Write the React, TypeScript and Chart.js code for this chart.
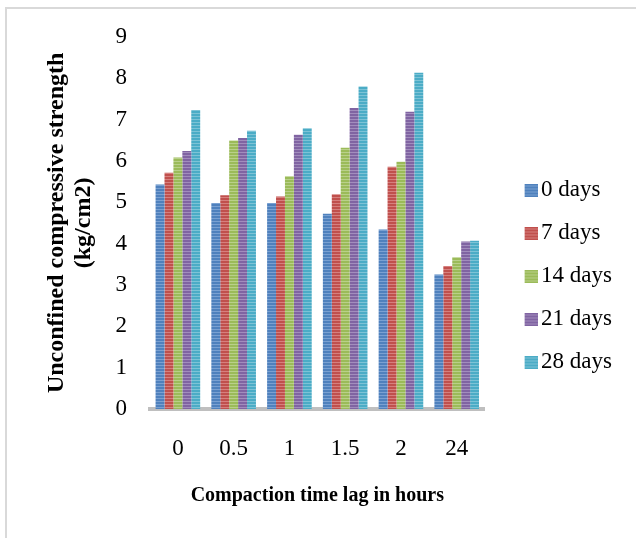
import React, { useEffect, useRef } from 'react';
import { Chart, registerables } from 'chart.js';

Chart.register(...registerables);

const categories = ['0', '0.5', '1', '1.5', '2', '24'];
const seriesNames = ['0 days', '7 days', '14 days', '21 days', '28 days'];
const days0 = [5.43, 4.98, 4.98, 4.72, 4.34, 3.25];
const days7 = [5.71, 5.17, 5.14, 5.19, 5.86, 3.46];
const days14 = [6.08, 6.49, 5.63, 6.32, 5.98, 3.67];
const days21 = [6.24, 6.55, 6.63, 7.28, 7.19, 4.05];
const days28 = [7.23, 6.73, 6.79, 7.8, 8.13, 4.07];
const seriesValues = [days0, days7, days14, days21, days28];
const yMin = 0;
const yMax = 9;
const yStep = 1;
const yTitle = ['Unconfined compressive strength', '(kg/cm2)'];
const xTitle = 'Compaction time lag in hours';

const baseColors = ['#4f81bd', '#c0504d', '#9bbb59', '#8064a2', '#4bacc6'];
const stripeColors = ['#7aa1d2', '#d6807e', '#b9d08a', '#a28dbd', '#7dc3d6'];

const FONT = "'Liberation Serif', 'Times New Roman', serif";

function stripeCanvas(w: number, h: number, base: string, stripe: string, offsetX = 0) {
  const c = document.createElement('canvas');
  c.width = w;
  c.height = h;
  const g = c.getContext('2d')!;
  g.fillStyle = base;
  g.fillRect(offsetX, 0, w - offsetX, h);
  g.fillStyle = stripe;
  for (let y = 2; y < h; y += 3) g.fillRect(offsetX, y, w - offsetX, 1);
  return c;
}

export default function App() {
  const ref = useRef<HTMLCanvasElement>(null);

  useEffect(() => {
    const canvas = ref.current!;
    const ctx = canvas.getContext('2d')!;
    const patterns = baseColors.map((b, i) =>
      ctx.createPattern(stripeCanvas(4, 3, b, stripeColors[i]), 'repeat')!
    );
    const boxes = baseColors.map((b, i) => stripeCanvas(17, 13, b, stripeColors[i], 4));

    const chart = new Chart(canvas, {
      type: 'bar',
      data: {
        labels: categories,
        datasets: seriesNames.map((name, i) => ({
          label: name,
          data: seriesValues[i],
          backgroundColor: patterns[i],
          borderWidth: 0,
          categoryPercentage: 0.8,
          barPercentage: 1.0,
        })),
      },
      options: {
        responsive: false,
        animation: false,
        devicePixelRatio: 1,
        layout: { padding: { left: 40, top: 22, right: 14, bottom: 28 } },
        scales: {
          x: {
            grid: { display: false, drawTicks: false },
            border: { display: true, color: '#bfbfbf', width: 4 },
            ticks: { font: { family: FONT, size: 23 }, color: '#000', padding: 26, maxRotation: 0 },
            title: {
              display: true,
              text: xTitle,
              font: { family: FONT, size: 20, weight: 'bold' },
              color: '#000',
              padding: { top: 20, bottom: 2 },
            },
            afterFit: (s: any) => {
              s.height = 101;
            },
          },
          y: {
            min: yMin,
            max: yMax,
            grid: { display: false, drawTicks: false },
            border: { display: false },
            ticks: { stepSize: yStep, font: { family: FONT, size: 23 }, color: '#000', padding: 23 },
            title: {
              display: true,
              text: yTitle,
              font: { family: FONT, size: 24, weight: 'bold', lineHeight: 1.1 },
              color: '#000',
              padding: { top: 4, bottom: 4 },
            },
            afterFit: (s: any) => {
              s.width = 110;
            },
          },
          gap: {
            type: 'linear',
            position: 'right',
            display: true,
            grid: { display: false, drawTicks: false },
            border: { display: false },
            ticks: { display: false },
            afterFit: (s: any) => {
              s.width = 24;
            },
          },
        },
        plugins: {
          tooltip: { enabled: false },
          legend: {
            position: 'right',
            align: 'center',
            maxWidth: 200,
            title: { display: true, text: '', padding: 0, font: { size: 10, lineHeight: 2 } },
            labels: {
              font: { family: FONT, size: 23 },
              color: '#000',
              padding: 20,
              usePointStyle: true,
              boxWidth: 1,
              generateLabels: (c: any) => {
                const items = (Chart.defaults.plugins.legend.labels as any).generateLabels(c);
                return items.map((it: any, i: number) => ({
                  ...it,
                  pointStyle: boxes[i],
                  lineWidth: 0,
                  strokeStyle: 'rgba(0,0,0,0)',
                }));
              },
            },
          },
        },
      } as any,
    });
    return () => chart.destroy();
  }, []);

  return (
    <div style={{ position: 'absolute', left: 0, top: 0, width: 636, height: 538, overflow: 'hidden', background: '#fff' }}>
      <div
        style={{
          position: 'absolute',
          left: 5,
          top: 7,
          width: 700,
          height: 600,
          border: '2px solid #d9d9d9',
          boxSizing: 'border-box',
        }}
      />
      <canvas ref={ref} width={636} height={538} style={{ position: 'absolute', left: 0, top: 0, width: 636, height: 538 }} />
    </div>
  );
}
